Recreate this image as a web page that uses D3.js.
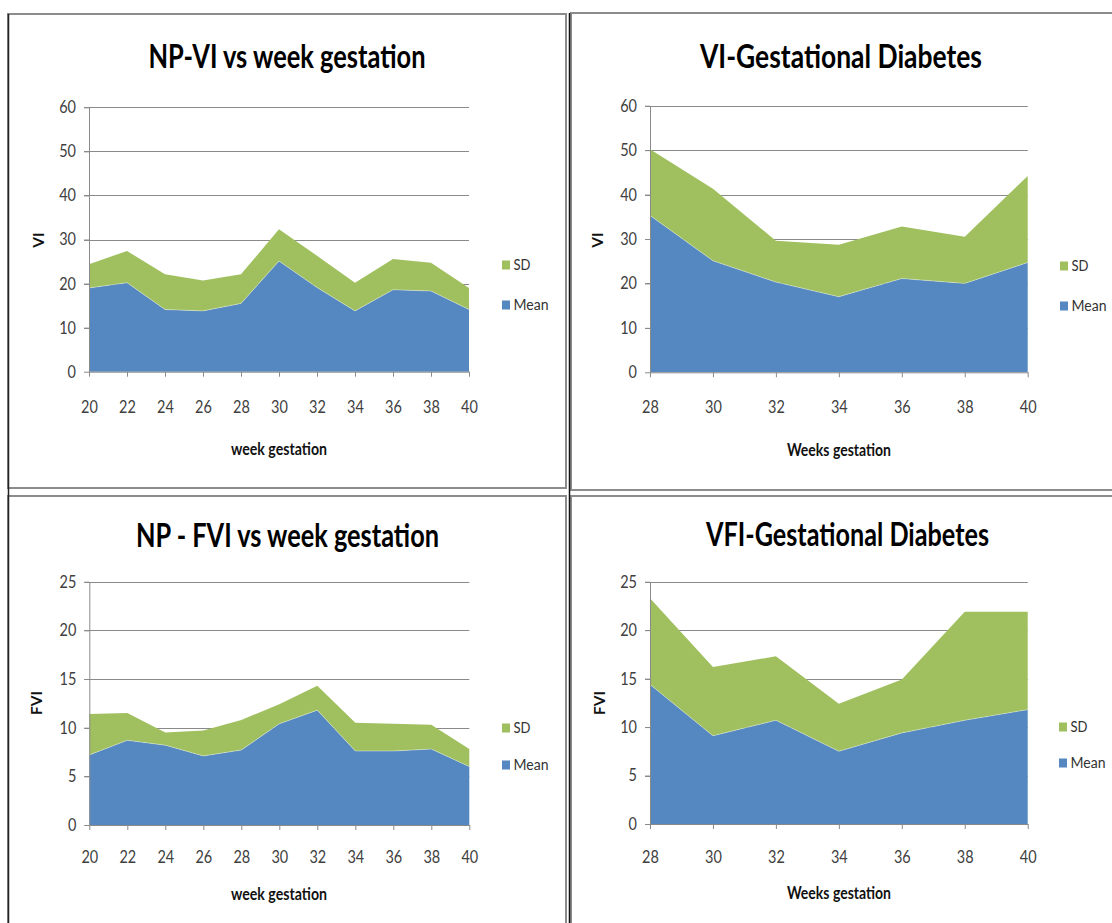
<!DOCTYPE html>
<html><head><meta charset="utf-8">
<script src="https://cdn.jsdelivr.net/npm/d3@7"></script>
<style>
body{margin:0;background:#fff}
svg{display:block;font-family:Lato,"Open Sans",sans-serif}
</style>
</head><body>
<svg id="c" width="1112" height="923"></svg>
<script>
// ---------- data ----------
const npWeeks   = [20,22,24,26,28,30,32,34,36,38,40];
const gdWeeks   = [28,30,32,34,36,38,40];
const npViMean  = [19.0,20.2,14.1,13.8,15.5,25.1,19.1,13.8,18.6,18.3,14.1];
const npViSD    = [5.4,7.2,8.0,6.9,6.6,7.2,7.2,6.4,7.0,6.4,4.9];
const gdViMean  = [35.3,25.1,20.3,17.0,21.1,20.0,24.7];
const gdViSD    = [14.9,16.2,9.3,11.7,11.7,10.5,19.5];
const npFviMean = [7.2,8.7,8.2,7.1,7.7,10.4,11.8,7.6,7.6,7.8,6.0];
const npFviSD   = [4.2,2.8,1.3,2.6,3.1,2.0,2.5,2.9,2.8,2.5,1.8];
const gdFviMean = [14.4,9.1,10.7,7.5,9.4,10.7,11.8];
const gdFviSD   = [8.9,7.1,6.6,4.9,5.5,11.2,10.1];
const viTicks   = [0,10,20,30,40,50,60];
const fviTicks  = [0,5,10,15,20,25];
const seriesKeys = ["Mean","SD"];
const legendKeys = ["SD","Mean"];
const panelTitles = ["NP-VI vs week gestation","VI-Gestational Diabetes","NP - FVI vs week gestation","VFI-Gestational Diabetes"];
const yTitles = ["VI","VI","FVI","FVI"];
const xTitles = ["week gestation","Weeks gestation","week gestation","Weeks gestation"];

const colors = {Mean:"#5588c0", SD:"#a0c060"};

// ---------- layout ----------
const layouts = [
  {weeks:npWeeks, mean:npViMean, sd:npViSD, ticks:viTicks,
   x0:89, x1:469, y0:371.7, y1:107.3, titleX:287, titleY:68, titleW:277,
   yTitleX:38.5, yTitleY:240, xTitleX:279, xTitleY:455, xTitleW:96, xLabY:407,
   legX:502, legY:[265,305]},
  {weeks:gdWeeks, mean:gdViMean, sd:gdViSD, ticks:viTicks,
   x0:650, x1:1027.7, y0:372.3, y1:105.7, titleX:841, titleY:68, titleW:282,
   yTitleX:598, yTitleY:240, xTitleX:839, xTitleY:456, xTitleW:104, xLabY:407,
   legX:1060, legY:[266,306]},
  {weeks:npWeeks, mean:npFviMean, sd:npFviSD, ticks:fviTicks,
   x0:89.3, x1:469.3, y0:825, y1:581.7, titleX:287.5, titleY:547, titleW:303,
   yTitleX:37, yTitleY:703, xTitleX:279, xTitleY:900, xTitleW:96, xLabY:857,
   legX:502, legY:[728,765]},
  {weeks:gdWeeks, mean:gdFviMean, sd:gdFviSD, ticks:fviTicks,
   x0:650, x1:1027.7, y0:824, y1:581.7, titleX:847.5, titleY:546, titleW:283,
   yTitleX:600, yTitleY:703, xTitleX:839, xTitleY:899, xTitleW:104, xLabY:857,
   legX:1059, legY:[727,763]}
];

const svg = d3.select("#c");
svg.append("rect").attr("width",1112).attr("height",923).attr("fill","#fff");

// panel frames
const frames = [[8,14,558,474],[571,13,560,477],[8,496,558,500],[571,496,560,500]];
svg.selectAll("rect.frame").data(frames).join("rect").attr("class","frame")
  .attr("x",d=>d[0]).attr("y",d=>d[1]).attr("width",d=>d[2]).attr("height",d=>d[3])
  .attr("fill","none").attr("stroke","#8c8c8c").attr("stroke-width",2);
svg.append("line").attr("x1",8.5).attr("x2",8.5).attr("y1",14).attr("y2",923)
  .attr("stroke","#222").attr("stroke-width",1.5);
svg.append("line").attr("x1",569.5).attr("x2",569.5).attr("y1",13).attr("y2",923)
  .attr("stroke","#111").attr("stroke-width",1.5);

const digitW = 8.4;

layouts.forEach((c,pi)=>{
  const g = svg.append("g");
  const x = d3.scaleLinear().domain(d3.extent(c.weeks)).range([c.x0,c.x1]);
  const y = d3.scaleLinear().domain([0,d3.max(c.ticks)]).range([c.y0,c.y1]);

  // gridlines
  g.append("g").selectAll("line").data(c.ticks.filter(t=>t>0)).join("line")
    .attr("x1",c.x0-5).attr("x2",c.x1)
    .attr("y1",d=>Math.round(y(d))+0.5).attr("y2",d=>Math.round(y(d))+0.5)
    .attr("stroke","#8a8a8a").attr("stroke-width",1);

  // stacked areas
  const rows = c.weeks.map((w,i)=>({week:w, Mean:c.mean[i], SD:c.sd[i]}));
  const stacked = d3.stack().keys(seriesKeys)(rows);
  const area = d3.area().x(d=>x(d.data.week)).y0(d=>y(d[0])).y1(d=>y(d[1]));
  g.append("g").selectAll("path").data(stacked).join("path")
    .attr("d",area).attr("fill",d=>colors[d.key]);
  g.append("path").datum(stacked[0])
    .attr("d",d3.line().x(d=>x(d.data.week)).y(d=>y(d[1])))
    .attr("fill","none").attr("stroke","rgba(255,255,255,0.35)").attr("stroke-width",1);

  // y axis
  const ya = g.append("g").attr("transform",`translate(${c.x0},0)`)
    .call(d3.axisLeft(y).tickValues(c.ticks).tickSize(5).tickSizeOuter(0).tickPadding(8));
  ya.select(".domain").attr("stroke","#8a8a8a");
  ya.selectAll(".tick line").attr("stroke","#8a8a8a");
  ya.selectAll("text").attr("font-family","Lato,sans-serif").attr("font-size",17).attr("fill","#404040")
    .attr("textLength",function(){return this.textContent.length*digitW;})
    .attr("lengthAdjust","spacingAndGlyphs");

  // x axis
  const xa = g.append("g").attr("transform",`translate(0,${c.y0})`)
    .call(d3.axisBottom(x).tickValues(c.weeks).tickSize(5).tickSizeOuter(0).tickFormat(d3.format("d")));
  xa.select(".domain").attr("stroke","#8a8a8a");
  xa.selectAll(".tick line").attr("stroke","#8a8a8a");
  xa.selectAll("text").attr("font-family","Lato,sans-serif").attr("font-size",17).attr("fill","#404040")
    .attr("y",c.xLabY-c.y0).attr("dy","0.35em")
    .attr("textLength",function(){return this.textContent.length*digitW;})
    .attr("lengthAdjust","spacingAndGlyphs");

  // titles
  g.append("text").attr("x",c.titleX).attr("y",c.titleY).attr("text-anchor","middle")
    .attr("font-size",32).attr("font-weight","bold").attr("fill","#000")
    .attr("textLength",c.titleW).attr("lengthAdjust","spacingAndGlyphs")
    .text(panelTitles[pi]);
  g.append("text").attr("x",c.xTitleX).attr("y",c.xTitleY).attr("text-anchor","middle")
    .attr("font-size",16.5).attr("font-weight","bold").attr("fill","#111")
    .attr("textLength",c.xTitleW).attr("lengthAdjust","spacingAndGlyphs")
    .text(xTitles[pi]);
  g.append("text").attr("transform",`translate(${c.yTitleX},${c.yTitleY}) rotate(-90)`)
    .attr("text-anchor","middle").attr("dy","0.35em")
    .attr("font-size",15.5).attr("font-weight","bold").attr("fill","#111")
    .text(yTitles[pi]);

  // legend
  const legW = {SD:17, Mean:35};
  const lg = g.append("g");
  legendKeys.forEach((k,i)=>{
    lg.append("rect").attr("x",c.legX).attr("y",c.legY[i]-4.5).attr("width",8).attr("height",9)
      .attr("fill",colors[k]);
    lg.append("text").attr("x",c.legX+11.5).attr("y",c.legY[i]).attr("dy","0.35em")
      .attr("font-size",15.5).attr("fill","#333")
      .attr("textLength",legW[k]).attr("lengthAdjust","spacingAndGlyphs").text(k);
  });
});
</script>
</body></html>
